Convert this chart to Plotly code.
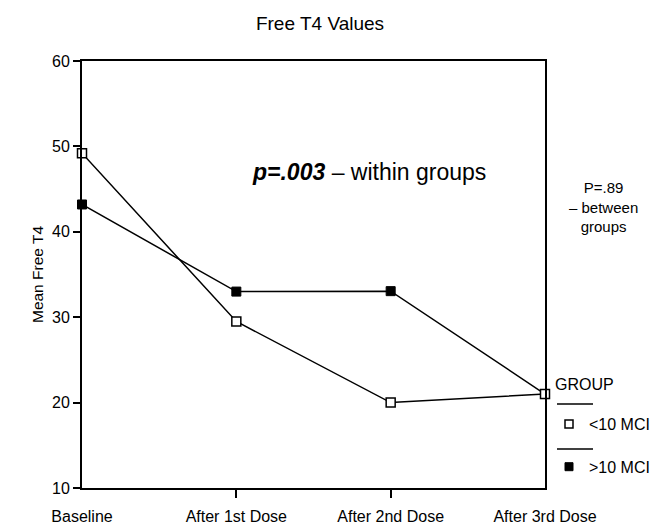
import plotly.graph_objects as go

categories = ["Baseline", "After 1st Dose", "After 2nd Dose", "After 3rd Dose"]
inner_ticks = ["After 1st Dose", "After 2nd Dose"]
group_lt10 = [49.2, 29.5, 20.0, 21.0]   # <10 MCI (open squares)
group_gt10 = [43.2, 33.0, 33.05, 21.0]  # >10 MCI (filled squares)
y_ticks = [10, 20, 30, 40, 50, 60]

FONT = "Liberation Sans, Arial, sans-serif"

W, H = 651, 527
L, R, T, B = 82, 545, 61, 488

def px_x(x):
    return (x - L) / (R - L)

def px_y(y):
    return (B - y) / (B - T)

fig = go.Figure()

fig.add_trace(go.Scatter(
    x=categories, y=group_gt10, mode="lines+markers", showlegend=False,
    line=dict(color="black", width=1.5),
    marker=dict(symbol="square", size=9, color="black", line=dict(color="black", width=1)),
    cliponaxis=False,
))
fig.add_trace(go.Scatter(
    x=categories, y=group_lt10, mode="lines+markers", showlegend=False,
    line=dict(color="black", width=1.5),
    marker=dict(symbol="square", size=9, color="white", line=dict(color="black", width=1.5)),
    cliponaxis=False,
))
# legend entries
fig.add_trace(go.Scatter(
    x=[None], y=[None], mode="markers", name="<10 MCI", legendgroup="a", xaxis="x2",
    marker=dict(symbol="square", size=8, color="white", line=dict(color="black", width=1.5)),
))
fig.add_trace(go.Scatter(
    x=[None], y=[None], mode="markers", name=">10 MCI", legendgroup="b", xaxis="x2",
    marker=dict(symbol="square", size=8, color="black", line=dict(color="black", width=1)),
))

fig.update_layout(
    width=W, height=H,
    margin=dict(l=L, r=W - R, t=T, b=H - B, autoexpand=False),
    paper_bgcolor="white", plot_bgcolor="white",
    font=dict(family=FONT, size=15, color="black"),
    title=dict(text="Free T4 Values", x=px_x(320), xanchor="center", xref="paper",
               y=1 - 23 / H, yanchor="middle", yref="container",
               font=dict(size=19, family=FONT, color="black")),
    xaxis=dict(
        type="category", categoryorder="array", categoryarray=categories,
        range=[0, 3], showgrid=False, zeroline=False, automargin=False,
        showline=True, linecolor="black", linewidth=2, mirror=True,
        ticks="outside", ticklen=13, tickwidth=2, tickcolor="rgba(0,0,0,0)",
        tickfont=dict(size=16, family=FONT),
    ),
    xaxis2=dict(
        type="category", categoryorder="array", categoryarray=categories,
        range=[0, 3], overlaying="x", matches="x", side="bottom",
        showgrid=False, zeroline=False, showline=False,
        tickvals=inner_ticks, showticklabels=False,
        ticks="outside", ticklen=9, tickwidth=2, tickcolor="black",
    ),
    yaxis=dict(
        range=[10, 60], tickvals=y_ticks, showgrid=False, zeroline=False, automargin=False,
        showline=True, linecolor="black", linewidth=2, mirror=True,
        ticks="outside", ticklen=7, tickwidth=2, tickcolor="black",
        tickfont=dict(size=16, family=FONT),
        title=dict(text="Mean Free T4", font=dict(size=15.5, family=FONT), standoff=5),
    ),
    legend=dict(
        x=px_x(549), xanchor="left", y=px_y(407), yanchor="top",
        font=dict(size=16, family=FONT), tracegroupgap=19,
        bgcolor="rgba(0,0,0,0)",
    ),
    showlegend=True,
)

fig.add_annotation(
    text="GROUP", xref="paper", yref="paper",
    x=px_x(553), y=px_y(384), xanchor="left", yanchor="middle",
    showarrow=False, font=dict(size=16, family=FONT, color="black"),
)
fig.add_annotation(
    text="<b><i>p=.003</i></b> – within groups", xref="paper", yref="paper",
    x=px_x(369), y=px_y(172), xanchor="center", yanchor="middle",
    showarrow=False, font=dict(size=23, family=FONT, color="black"),
)
fig.add_annotation(
    text="P=.89<br>– between<br>groups", xref="paper", yref="paper",
    x=px_x(603), y=px_y(207), xanchor="center", yanchor="middle", align="center",
    showarrow=False, font=dict(size=15, family=FONT, color="black"),
)

for yy in (404, 449):
    fig.add_shape(type="line", xref="paper", yref="paper",
                  x0=px_x(557), x1=px_x(593), y0=px_y(yy), y1=px_y(yy),
                  line=dict(color="black", width=1.5))

fig.write_html(
    "out.html",
    config={"displayModeBar": False},
    post_script="document.body.style.margin='0';document.body.style.overflow='hidden';",
)
